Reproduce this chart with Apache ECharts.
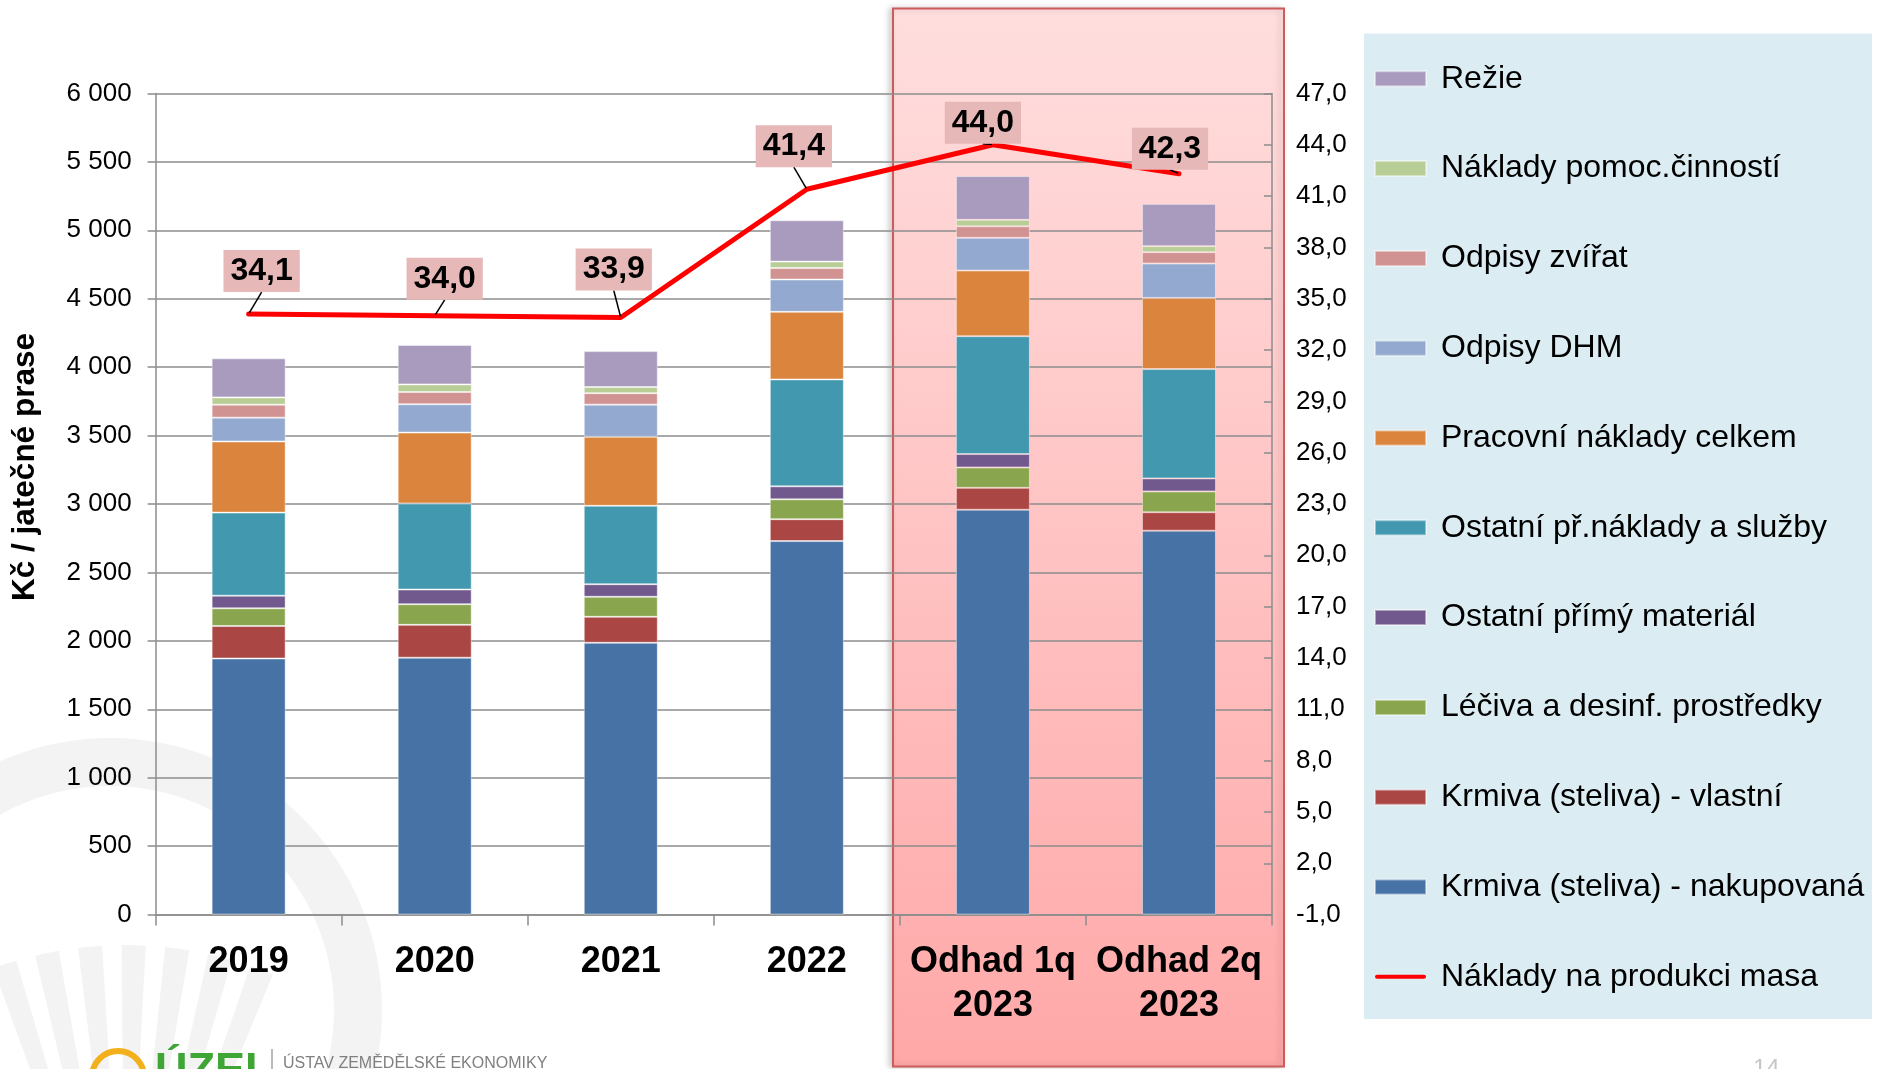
<!DOCTYPE html>
<html lang="cs">
<head>
<meta charset="utf-8">
<title>Náklady na produkci masa</title>
<script src="https://cdn.jsdelivr.net/npm/echarts@6/dist/echarts.min.js"></script>
<style>
  html, body { margin: 0; padding: 0; background: #fff; }
  #chart { width: 1877px; height: 1069px; }
</style>
</head>
<body>
<div id="chart"></div>
<script>
// categories
const categories = ['2019', '2020', '2021', '2022', 'Odhad 1q\n2023', 'Odhad 2q\n2023']

// cost items, Kč / jatečné prase (stacked bottom -> top)
const krmivaNakupovana = [1871, 1877, 1986, 2729, 2958, 2805]
const krmivaVlastni = [238, 240, 190, 160, 160, 135]
const leciva = [129, 151, 146, 145, 149, 152]
const ostatniPrimyMaterial = [92, 107, 92, 95, 98, 95]
const ostatniNakladySluzby = [607, 629, 573, 781, 861, 799]
const pracovniNaklady = [520, 518, 504, 494, 480, 520]
const odpisyDHM = [174, 207, 235, 236, 239, 251]
const odpisyZvirat = [95, 89, 84, 84, 84, 83]
const nakladyPomoc = [53, 56, 45, 47, 47, 44]
const rezie = [285, 288, 262, 302, 320, 309]

// line on the right axis
const nakladyNaProdukci = [34.1, 34.0, 33.9, 41.4, 44.0, 42.3]

// right axis tick labels
const rightTicks = [-1, 2, 5, 8, 11, 14, 17, 20, 23, 26, 29, 32, 35, 38, 41, 44, 47]

const LINE_NAME = 'Náklady na produkci masa'

const barSeries = [
  { name: 'Krmiva (steliva) - nakupovaná', data: krmivaNakupovana, color: '#4672A6' },
  { name: 'Krmiva (steliva) - vlastní', data: krmivaVlastni, color: '#AA4744' },
  { name: 'Léčiva a desinf. prostředky', data: leciva, color: '#89A54E' },
  { name: 'Ostatní přímý materiál', data: ostatniPrimyMaterial, color: '#71598E' },
  { name: 'Ostatní př.náklady a služby', data: ostatniNakladySluzby, color: '#4298AF' },
  { name: 'Pracovní náklady celkem', data: pracovniNaklady, color: '#DB843D' },
  { name: 'Odpisy DHM', data: odpisyDHM, color: '#93A9CF' },
  { name: 'Odpisy zvířat', data: odpisyZvirat, color: '#D19392' },
  { name: 'Náklady pomoc.činností', data: nakladyPomoc, color: '#B9CD96' },
  { name: 'Režie', data: rezie, color: '#A99BBD' }
]

// label box offsets from the line point (px)
const labelOffsets = [[13, -43], [10, -37], [-7, -48], [-13, -43], [-10, -22], [-9, -25]]

const FONT = 'Liberation Sans, Arial, sans-serif'
const GRID_COLOR = '#8c8c8c'
const WATERMARK = '#f3f3f3'

function formatThousands(v) {
  return String(v).replace(/\B(?=(\d{3})+(?!\d))/g, ' ')
}

function formatComma(v) {
  return Number(v).toFixed(1).replace('.', ',')
}

// faint watermark rays in the lower left corner
function buildRays() {
  const rays = []
  for (let i = 0; i < 7; i++) {
    const a0 = (-110 + i * 6.5) * Math.PI / 180
    rays.push({
      type: 'sector',
      z: -20,
      silent: true,
      shape: { cx: 125, cy: 1330, r0: 0, r: 385, startAngle: a0, endAngle: a0 + 3.6 * Math.PI / 180 },
      style: { fill: WATERMARK }
    })
  }
  return rays
}

const chart = echarts.init(document.getElementById('chart'), null, { renderer: 'canvas' })

const option = {
  backgroundColor: '#fff',
  animation: false,
  textStyle: { fontFamily: FONT },
  grid: { left: 155.6, right: 605, top: 93.4, bottom: 154.4 },
  graphic: [
    ...buildRays(),
    {
      type: 'ring',
      z: -20,
      silent: true,
      shape: { cx: 110, cy: 1010, r: 272, r0: 224 },
      style: { fill: WATERMARK }
    },
    // highlighted forecast area
    {
      type: 'rect',
      z: -5,
      silent: true,
      shape: { x: 893, y: 8.5, width: 391, height: 1058 },
      style: {
        fill: new echarts.graphic.LinearGradient(0, 0, 0, 1, [
          { offset: 0, color: '#FFDEDE' },
          { offset: 1, color: '#FFA8A8' }
        ]),
        stroke: '#CC5B5B',
        lineWidth: 2,
        shadowBlur: 6,
        shadowOffsetX: -3,
        shadowColor: 'rgba(0,0,0,0.18)'
      }
    },
    // legend panel
    {
      type: 'rect',
      z: -5,
      silent: true,
      shape: { x: 1364, y: 33.5, width: 508, height: 985.5 },
      style: { fill: '#DBEDF3' }
    },
    // logo
    {
      type: 'circle',
      z: -2,
      silent: true,
      shape: { cx: 118, cy: 1077, r: 26 },
      style: { fill: 'none', stroke: '#F2B11C', lineWidth: 6 }
    },
    {
      type: 'text',
      z: -2,
      silent: true,
      x: 155,
      y: 1049,
      style: { text: 'ÚZEI', font: 'bold 45px ' + FONT, fill: '#3FA535', textVerticalAlign: 'top' }
    },
    {
      type: 'line',
      z: -2,
      silent: true,
      shape: { x1: 272, y1: 1049, x2: 272, y2: 1069 },
      style: { stroke: '#777', lineWidth: 1 }
    },
    {
      type: 'text',
      z: -2,
      silent: true,
      x: 283,
      y: 1056,
      style: { text: 'ÚSTAV ZEMĚDĚLSKÉ EKONOMIKY', font: '16px ' + FONT, fill: '#808080', textVerticalAlign: 'top' }
    },
    {
      type: 'text',
      z: -2,
      silent: true,
      x: 1753,
      y: 1057,
      style: { text: '14', font: '24px ' + FONT, fill: '#c6c6c6', textVerticalAlign: 'top' }
    }
  ],
  legend: {
    orient: 'vertical',
    left: 1374,
    top: 62.8,
    padding: 0,
    itemWidth: 51,
    itemHeight: 15,
    itemGap: 57.8,
    icon: 'rect',
    selectedMode: false,
    textStyle: {
      fontFamily: FONT,
      fontSize: 32,
      color: '#000',
      lineHeight: 30,
      padding: [0, 0, 0, 10]
    },
    data: [
      ...barSeries.map((s) => s.name).reverse(),
      { name: LINE_NAME, icon: 'path://M4,0 H96 A4,4 0 0 1 96,8 H4 A4,4 0 0 1 4,0 Z' }
    ]
  },
  xAxis: {
    type: 'category',
    data: categories,
    axisLine: { lineStyle: { color: GRID_COLOR, width: 1.5 } },
    axisTick: { show: true, length: 11, interval: 0, lineStyle: { color: GRID_COLOR, width: 1.5 } },
    axisLabel: {
      interval: 0,
      margin: 25,
      color: '#000',
      fontFamily: FONT,
      fontWeight: 'bold',
      fontSize: 36,
      lineHeight: 44
    }
  },
  yAxis: [
    {
      type: 'value',
      min: 0,
      max: 6000,
      interval: 500,
      name: 'Kč / jatečné prase',
      nameLocation: 'middle',
      nameRotate: 90,
      nameGap: 114,
      nameTextStyle: {
        fontFamily: FONT,
        fontWeight: 'bold',
        fontSize: 31.5,
        color: '#000',
        padding: [0, 0, 0, 74]
      },
      axisLine: { show: true, lineStyle: { color: GRID_COLOR, width: 1.5 } },
      axisTick: { show: true, length: 8, lineStyle: { color: GRID_COLOR, width: 1.5 } },
      axisLabel: {
        margin: 24,
        color: '#000',
        fontFamily: FONT,
        fontSize: 26,
        formatter: formatThousands
      },
      splitLine: { lineStyle: { color: GRID_COLOR, width: 1.5 } }
    },
    {
      type: 'value',
      min: -1,
      max: 47,
      position: 'right',
      axisLine: { show: true, lineStyle: { color: GRID_COLOR, width: 1.5 } },
      axisTick: { show: true, inside: true, length: 8, customValues: rightTicks, lineStyle: { color: GRID_COLOR, width: 1.5 } },
      axisLabel: {
        margin: 24,
        color: '#000',
        fontFamily: FONT,
        fontSize: 26,
        customValues: rightTicks,
        formatter: formatComma
      },
      splitLine: { show: false }
    }
  ],
  series: [
    ...barSeries.map((s) => ({
      name: s.name,
      type: 'bar',
      stack: 'naklady',
      barWidth: 74,
      data: s.data,
      itemStyle: {
        color: s.color,
        borderColor: 'rgba(255,255,255,0.45)',
        borderWidth: 1
      }
    })),
    {
      name: LINE_NAME,
      type: 'line',
      yAxisIndex: 1,
      data: nakladyNaProdukci,
      symbol: 'circle',
      symbolSize: 2,
      z: 5,
      lineStyle: { color: '#FF0000', width: 5, cap: 'round', join: 'round' },
      itemStyle: { color: '#FF0000' },
      label: {
        show: true,
        position: 'inside',
        formatter: (p) => formatComma(p.value),
        color: '#000',
        fontFamily: FONT,
        fontWeight: 'bold',
        fontSize: 32,
        backgroundColor: '#E6B9B8',
        padding: [5, 7, 5, 7]
      },
      labelLine: {
        show: true,
        lineStyle: { color: '#000', width: 1.5 }
      },
      labelLayout: (params) => {
        const o = labelOffsets[params.dataIndex] || [0, 0]
        return { dx: o[0], dy: o[1] }
      }
    }
  ]
}

chart.setOption(option)
</script>
</body>
</html>
